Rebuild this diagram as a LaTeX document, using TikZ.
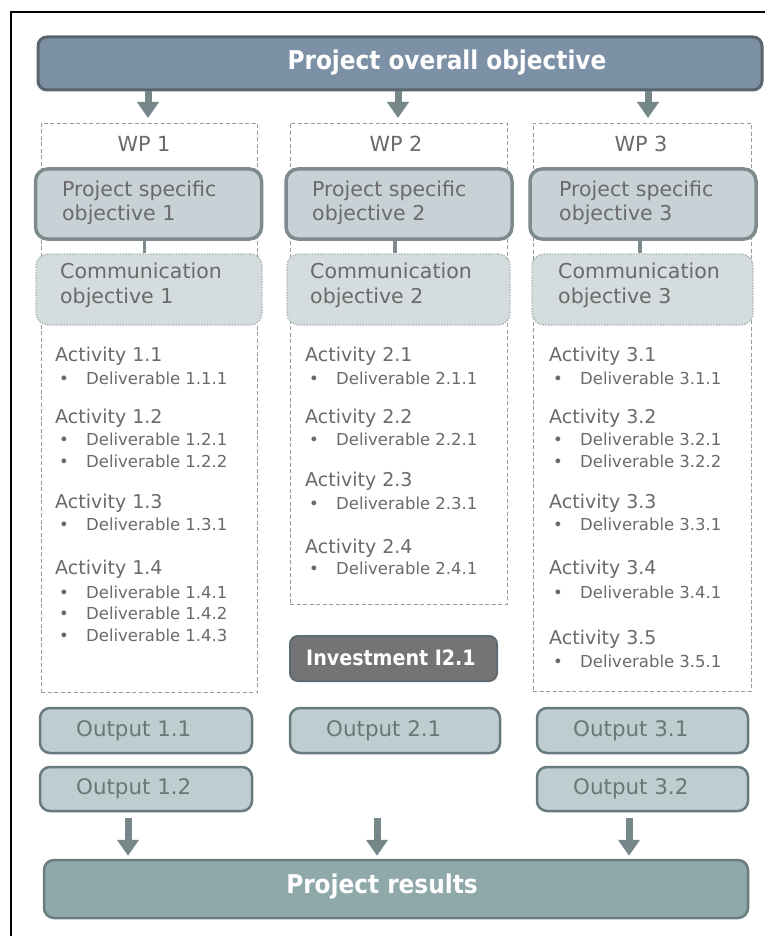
\documentclass[tikz,border=0pt]{standalone}
\usepackage{fontspec}
\setmainfont{DejaVu Sans Condensed}
\newfontfamily\widefont{DejaVu Sans}
\usetikzlibrary{arrows.meta}
\definecolor{topfill}{HTML}{7C91A6}
\definecolor{topdraw}{HTML}{59656E}
\definecolor{arrowc}{HTML}{76878A}
\definecolor{psofill}{HTML}{C8D2D6}
\definecolor{psodraw}{HTML}{7E8A8E}
\definecolor{commfill}{HTML}{D4DCDD}
\definecolor{commdraw}{HTML}{A8B4B6}
\definecolor{txtgray}{HTML}{6A6A6A}
\definecolor{wpdraw}{HTML}{9A9A9A}
\definecolor{invfill}{HTML}{747474}
\definecolor{invdraw}{HTML}{5E6B70}
\definecolor{outfill}{HTML}{BFCDD0}
\definecolor{outdraw}{HTML}{687A7E}
\definecolor{outtext}{HTML}{6A7678}
\definecolor{resfill}{HTML}{8FA8AA}
\definecolor{resdraw}{HTML}{6B7C7F}
\tikzset{
  topbox/.style={draw=topdraw, fill=topfill, line width=3pt, rounded corners=9pt, inner sep=0pt},
  wpbox/.style={draw=wpdraw, line width=0.9pt, dash pattern=on 4pt off 2.5pt, inner sep=0pt},
  psobox/.style={draw=psodraw, fill=psofill, line width=3.5pt, rounded corners=12pt, inner sep=0pt},
  commbox/.style={draw=commdraw, fill=commfill, line width=1.4pt, dash pattern=on 1.4pt off 1.4pt, rounded corners=12pt, inner sep=0pt},
  invbox/.style={draw=invdraw, fill=invfill, line width=2pt, rounded corners=8pt, inner sep=0pt},
  outbox/.style={draw=outdraw, fill=outfill, line width=2.5pt, rounded corners=10pt, inner sep=0pt},
  resbox/.style={draw=resdraw, fill=resfill, line width=2.5pt, rounded corners=10pt, inner sep=0pt},
  bigarrow/.style={draw=arrowc, line width=7pt, -{Triangle[width=21pt,length=16pt]}},
  linkline/.style={draw=psodraw, line width=3.5pt},
  headtext/.style={font=\bfseries\fontsize{25.8}{28}\selectfont, text=white, inner sep=0pt},
  wptext/.style={font=\widefont\fontsize{20.8}{24}\selectfont, text=txtgray, inner sep=0pt},
  objtext/.style={font=\widefont\fontsize{20.5}{24.5}\selectfont, text=txtgray, inner sep=0pt, anchor=west, align=left},
  acttext/.style={font=\widefont\fontsize{19}{20}\selectfont, text=txtgray, inner sep=0pt, anchor=west, text height=13.7pt, text depth=0pt},
  deltext/.style={font=\widefont\fontsize{16.5}{18}\selectfont, text=txtgray, inner sep=0pt, anchor=west, text height=12pt, text depth=0pt},
  invtext/.style={font=\bfseries\fontsize{21.2}{24}\selectfont, text=white, inner sep=0pt},
  outtxt/.style={font=\widefont\fontsize{21.4}{24}\selectfont, text=outtext, inner sep=0pt, anchor=west, text height=15.4pt, text depth=0pt},
}
\begin{document}
\begin{tikzpicture}[x=1pt,y=-1pt]
\useasboundingbox (0,0) rectangle (764,936);
\fill[white] (0,0) rectangle (764,936);
% frame
\draw[line width=2.5pt] (11,940) -- (11,12) -- (770,12);

% top objective
\node[topbox, minimum width=724pt, minimum height=53pt] (top) at (400,63.5) {};
\node[headtext] (toptxt) at (447,62) {Project overall objective};

% WP frames
\node[wpbox, minimum width=216pt, minimum height=569pt] (wp1) at (149,407.5) {};
\node[wpbox, minimum width=217pt, minimum height=481pt] (wp2) at (398.5,363.5) {};
\node[wpbox, minimum width=218pt, minimum height=568pt] (wp3) at (642,407) {};

% top arrows
\coordinate (a1e) at (148,118);
\coordinate (a2e) at (398,118);
\coordinate (a3e) at (648,118);
\draw[bigarrow] (a1e |- top.south) -- (a1e);
\draw[bigarrow] (a2e |- top.south) -- (a2e);
\draw[bigarrow] (a3e |- top.south) -- (a3e);

% WP titles
\node[wptext] (wp1t) at (144,144) {WP 1};
\node[wptext] (wp2t) at (396,144) {WP 2};
\node[wptext] (wp3t) at (641,144) {WP 3};

% project specific objectives
\node[psobox, minimum width=226pt, minimum height=70pt] (pso1) at (148.5,204) {};
\node[psobox, minimum width=226pt, minimum height=70pt] (pso2) at (399,204) {};
\node[psobox, minimum width=226pt, minimum height=70pt] (pso3) at (643,204) {};
\node[objtext] (pso1t) at (62,203) {Project specific\\objective 1};
\node[objtext] (pso2t) at (312,203) {Project specific\\objective 2};
\node[objtext] (pso3t) at (559,203) {Project specific\\objective 3};

% communication objectives
\node[commbox, minimum width=226pt, minimum height=71pt] (comm1) at (149,289.5) {};
\node[commbox, minimum width=223pt, minimum height=71pt] (comm2) at (398.5,289.5) {};
\node[commbox, minimum width=221pt, minimum height=71pt] (comm3) at (642.5,289.5) {};
\node[objtext] (comm1t) at (60,285.5) {Communication\\objective 1};
\node[objtext] (comm2t) at (310,285.5) {Communication\\objective 2};
\node[objtext] (comm3t) at (558,285.5) {Communication\\objective 3};

% links
\draw[linkline] ([xshift=-4pt]pso1.south) -- ([xshift=-4pt]pso1.south |- comm1.north);
\draw[linkline] ([xshift=-4pt]pso2.south) -- ([xshift=-4pt]pso2.south |- comm2.north);
\draw[linkline] ([xshift=-3pt]pso3.south) -- ([xshift=-3pt]pso3.south |- comm3.north);

% WP1 activities
\node[acttext] (a11) at (55,355) {Activity 1.1};
\node[deltext] (b111) at (59,378) {•}; \node[deltext] (d111) at (86,378) {Deliverable 1.1.1};
\node[acttext] (a12) at (55,417) {Activity 1.2};
\node[deltext] (b121) at (59,439) {•}; \node[deltext] (d121) at (86,439) {Deliverable 1.2.1};
\node[deltext] (b122) at (59,461) {•}; \node[deltext] (d122) at (86,461) {Deliverable 1.2.2};
\node[acttext] (a13) at (55,502) {Activity 1.3};
\node[deltext] (b131) at (59,524) {•}; \node[deltext] (d131) at (86,524) {Deliverable 1.3.1};
\node[acttext] (a14) at (55,568) {Activity 1.4};
\node[deltext] (b141) at (59,592) {•}; \node[deltext] (d141) at (86,592) {Deliverable 1.4.1};
\node[deltext] (b142) at (59,613) {•}; \node[deltext] (d142) at (86,613) {Deliverable 1.4.2};
\node[deltext] (b143) at (59,635) {•}; \node[deltext] (d143) at (86,635) {Deliverable 1.4.3};

% WP2 activities
\node[acttext] (a21) at (305,355) {Activity 2.1};
\node[deltext] (b211) at (309,378) {•}; \node[deltext] (d211) at (336,378) {Deliverable 2.1.1};
\node[acttext] (a22) at (305,417) {Activity 2.2};
\node[deltext] (b221) at (309,439) {•}; \node[deltext] (d221) at (336,439) {Deliverable 2.2.1};
\node[acttext] (a23) at (305,480) {Activity 2.3};
\node[deltext] (b231) at (309,503) {•}; \node[deltext] (d231) at (336,503) {Deliverable 2.3.1};
\node[acttext] (a24) at (305,547) {Activity 2.4};
\node[deltext] (b241) at (309,568) {•}; \node[deltext] (d241) at (336,568) {Deliverable 2.4.1};

% WP3 activities
\node[acttext] (a31) at (549,355) {Activity 3.1};
\node[deltext] (b311) at (553,378) {•}; \node[deltext] (d311) at (580,378) {Deliverable 3.1.1};
\node[acttext] (a32) at (549,417) {Activity 3.2};
\node[deltext] (b321) at (553,439) {•}; \node[deltext] (d321) at (580,439) {Deliverable 3.2.1};
\node[deltext] (b322) at (553,461) {•}; \node[deltext] (d322) at (580,461) {Deliverable 3.2.2};
\node[acttext] (a33) at (549,502) {Activity 3.3};
\node[deltext] (b331) at (553,524) {•}; \node[deltext] (d331) at (580,524) {Deliverable 3.3.1};
\node[acttext] (a34) at (549,568) {Activity 3.4};
\node[deltext] (b341) at (553,592) {•}; \node[deltext] (d341) at (580,592) {Deliverable 3.4.1};
\node[acttext] (a35) at (549,638) {Activity 3.5};
\node[deltext] (b351) at (553,661) {•}; \node[deltext] (d351) at (580,661) {Deliverable 3.5.1};

% investment
\node[invbox, minimum width=207pt, minimum height=45pt] (inv) at (393.5,658.5) {};
\node[invtext] (invt) at (391,658) {Investment I2.1};

% outputs
\node[outbox, minimum width=212pt, minimum height=45pt] (o11) at (146,730.5) {};
\node[outbox, minimum width=212pt, minimum height=44pt] (o12) at (146,789) {};
\node[outbox, minimum width=210pt, minimum height=45pt] (o21) at (395,730.5) {};
\node[outbox, minimum width=211pt, minimum height=45pt] (o31) at (642.5,730.5) {};
\node[outbox, minimum width=211pt, minimum height=44pt] (o32) at (642.5,789) {};
\node[outtxt] (o11t) at (76,729) {Output 1.1};
\node[outtxt] (o12t) at (76,787) {Output 1.2};
\node[outtxt] (o21t) at (326,729) {Output 2.1};
\node[outtxt] (o31t) at (573,729) {Output 3.1};
\node[outtxt] (o32t) at (573,787) {Output 3.2};

% results
\node[resbox, minimum width=704pt, minimum height=58pt] (res) at (396,889) {};
\node[headtext] (rest) at (382,886) {Project results};

% bottom arrows
\coordinate (r1s) at (128,818);
\coordinate (r2s) at (377,818);
\coordinate (r3s) at (629,818);
\draw[bigarrow] (r1s) -- ([yshift=3pt]r1s |- res.north);
\draw[bigarrow] (r2s) -- ([yshift=3pt]r2s |- res.north);
\draw[bigarrow] (r3s) -- ([yshift=3pt]r3s |- res.north);
\end{tikzpicture}
\end{document}
